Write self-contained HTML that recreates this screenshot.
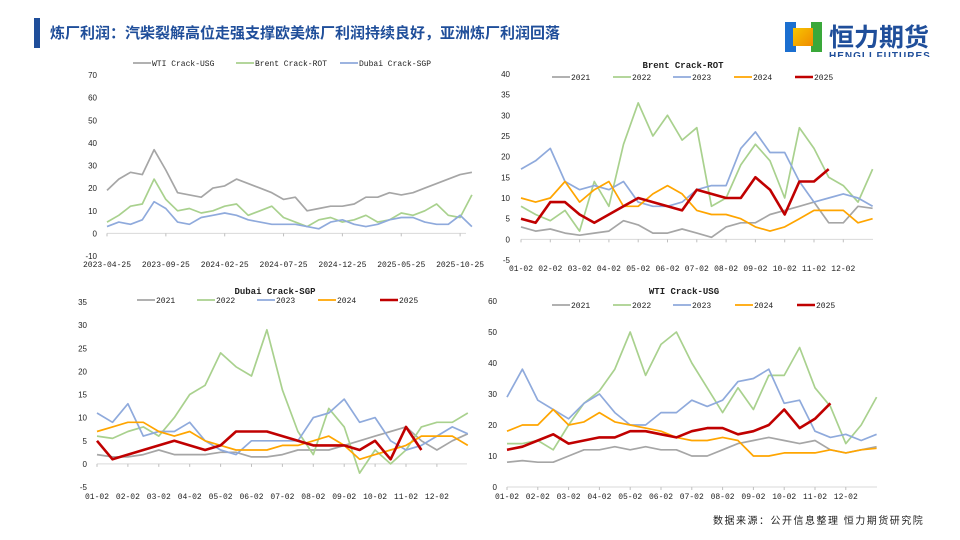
<!DOCTYPE html>
<html><head><meta charset="utf-8">
<style>
body{margin:0;background:#fff;}
#wrap{position:relative;width:960px;height:540px;overflow:hidden;background:#fff;font-family:"Liberation Sans","Noto Sans CJK SC",sans-serif;}
</style></head>
<body>
<div id="wrap">
<div style="position:absolute;left:34px;top:18px;width:6px;height:30px;background:#1f4e9a"></div>
<div style="position:absolute;left:50px;top:22px;font-size:15px;font-weight:bold;color:#1f4e9a;white-space:nowrap;font-family:'Liberation Sans','Noto Sans CJK SC',sans-serif">炼厂利润：汽柴裂解高位走强支撑欧美炼厂利润持续良好，亚洲炼厂利润回落</div>
<div style="position:absolute;left:785px;top:22px;width:150px;height:35px;overflow:hidden">
 <div style="position:absolute;left:0;top:0;width:37px;height:30px;background:linear-gradient(90deg,#1b6fd0 0 30%,#fff 30% 70%,#3aa83a 70%)"></div>
 <div style="position:absolute;left:8px;top:6px;width:20px;height:18px;background:linear-gradient(135deg,#f7c600,#f08a00)"></div>
 <div style="position:absolute;left:44px;top:-4px;font-size:25px;font-weight:bold;color:#1f4e9a;letter-spacing:0px;white-space:nowrap;font-family:'Liberation Sans','Noto Sans CJK SC',sans-serif">恒力期货</div>
 <div style="position:absolute;left:44px;top:29px;font-size:10px;color:#1f4e9a;font-weight:bold;letter-spacing:1px;white-space:nowrap">HENGLI FUTURES</div>
</div>
<div style="position:absolute;left:713px;top:512px;font-size:10px;color:#222;letter-spacing:1.5px;white-space:nowrap;font-family:'Liberation Sans','Noto Sans CJK SC',sans-serif">数据来源：公开信息整理 恒力期货研究院</div>
<svg id="svg" width="960" height="540" style="position:absolute;left:0;top:0"></svg>
</div>
<script>
// ---- Chart 1 data (monthly from 2023-04) ----
const c1XLabels=["2023-04-25","2023-09-25","2024-02-25","2024-07-25","2024-12-25","2025-05-25","2025-10-25"];
const c1YTicks=[-10,0,10,20,30,40,50,60,70];
const c1Wti=[19,24,27,26,37,28,18,17,16,20,21,24,22,20,18,15,16,10,11,12,12,13,16,16,18,17,18,20,22,24,26,27];
const c1Brent=[5,8,12,13,24,15,10,11,9,10,12,13,8,10,12,7,5,3,6,7,5,6,8,5,6,9,8,10,13,8,7,17];
const c1Dubai=[3,5,4,6,14,11,5,4,7,8,9,8,6,5,4,4,4,3,2,5,6,4,3,4,6,7,7,5,4,4,8,3];
// ---- Seasonal charts (half-month steps) ----
const monthLabels=["01-02","02-02","03-02","04-02","05-02","06-02","07-02","08-02","09-02","10-02","11-02","12-02"];
const yearNames=["2021","2022","2023","2024","2025"];
const brentTicks=[-5,0,5,10,15,20,25,30,35,40];
const brent2021=[3,2,2.5,1.5,1,1.5,2,4.5,3.5,1.5,1.5,2.5,1.5,0.5,3,4,4,6,7,8,9,4,4,8,7.5];
const brent2022=[8,6,4.5,7,2,14,8,23,33,25,30,24,27,8,10,18,23,19,10,27,22,15,13,9,17];
const brent2023=[17,19,22,14,12,13,12,14,9,8,8,9,12,13,13,22,26,21,21,14,9,10,11,10,8];
const brent2024=[10,9,10,14,9,12,14,8,8,11,13,11,7,6,6,5,3,2,3,5,7,7,7,4,5];
const brent2025=[5,4,9,9,6,4,6,8,10,9,8,7,12,11,10,10,15,12,6,14,14,17];
const dubaiTicks=[-5,0,5,10,15,20,25,30,35];
const dubai2021=[2,1.5,1.5,2,3,2,2,2,2.5,2.5,1.5,1.5,2,3,3,3,4,5,6,7,8,5,3,5,6.5];
const dubai2022=[6,5.5,7,8,6,10,15,17,24,21,19,29,16,7,2,12,8,-2,3,0,3,8,9,9,11];
const dubai2023=[11,9,13,6,7,7,9,5,3,2,5,5,5,5,10,11,14,9,10,5,3,4,6,8,6.5];
const dubai2024=[7,8,9,9,7,6,7,5,4,3,3,3,4,4,5,6,4,1,2,3,4,6,6,6,4];
const dubai2025=[5,1,2,3,4,5,4,3,4,7,7,7,6,5,4,4,4,3,5,1,8,3];
const wtiTicks=[0,10,20,30,40,50,60];
const wti2021=[8,8.5,8,8,10,12,12,13,12,13,12,12,10,10,12,14,15,16,15,14,15,12,11,12,13];
const wti2022=[14,14,15,12,20,27,31,38,50,36,46,50,40,32,24,32,25,36,36,45,32,26,14,20,29];
const wti2023=[29,38,28,25,22,27,30,24,20,20,24,24,28,26,28,34,35,38,27,28,18,16,17,15,17];
const wti2024=[18,20,20,25,20,21,24,21,20,19,18,16,15,15,16,15,10,10,11,11,11,12,11,12,12.5];
const wti2025=[12,13,15,17,14,15,16,16,18,18,17,16,18,19,19,17,18,20,25,19,22,27];

const svg=document.getElementById('svg');
const NS='http://www.w3.org/2000/svg';
function mk(tag,attrs,parent){const e=document.createElementNS(NS,tag);for(const k in attrs)e.setAttribute(k,attrs[k]);(parent||svg).appendChild(e);return e;}
const colors={"2021":"#a6a6a6","2022":"#a9d18e","2023":"#8faadc","2024":"#ffa500","2025":"#c00000"};

function drawChart(cfg){
  const g=mk('g',{});
  
  
  const ymin=cfg.ticks[0],ymax=cfg.ticks[cfg.ticks.length-1];
  const ys=v=>cfg.yTop+(ymax-v)/(ymax-ymin)*(cfg.yBot-cfg.yTop);
  const xs=m=>cfg.x0+m*cfg.perMonth;
  cfg.ticks.forEach(t=>{
    const tx=mk('text',{x:cfg.yLabX,y:ys(t)+3,'text-anchor':'end','font-size':'8','fill':'#222','font-family':'Liberation Sans, sans-serif'},g);
    tx.textContent=t;
    
    
  });
  const ax=mk('line',{x1:cfg.x0,x2:cfg.xEnd,y1:ys(0),y2:ys(0),stroke:'#d9d9d9','stroke-width':1},g);
  
  
  cfg.xLabels.forEach((l,i)=>{
    const m=i*cfg.labStep;
    mk('line',{x1:xs(m),x2:xs(m),y1:ys(0),y2:ys(0)+3,stroke:'#bfbfbf'},g);
    const tx=mk('text',{x:xs(m),y:cfg.xLabY,'text-anchor':'middle','font-size':'8','fill':'#222','font-family':'Liberation Mono, monospace'},g);
    tx.textContent=l;
    
    
  });
  cfg.series.forEach(s=>{
    const pts=s.data.map((v,i)=>xs(i*cfg.step).toFixed(1)+','+ys(v).toFixed(1)).join(' ');
    const p=mk('polyline',{points:pts,fill:'none',stroke:s.color,'stroke-width':s.w,'stroke-linejoin':'round'},g);
    
    
  });
  if(cfg.title){
    const t=mk('text',{x:cfg.titleX,y:cfg.titleY,'text-anchor':'middle','font-size':'9','fill':'#222','font-family':'Liberation Mono, monospace','font-weight':'bold'},g);
    t.textContent=cfg.title;
    
    
  }
  cfg.series.forEach((s,i)=>{
    const lx=cfg.legX[i];
    mk('line',{x1:lx,x2:lx+18,y1:cfg.legY,y2:cfg.legY,stroke:s.color,'stroke-width':s.w},g);
    const t=mk('text',{x:lx+19,y:cfg.legY+3,'font-size':'8','fill':'#222','font-family':'Liberation Mono, monospace'},g);
    t.textContent=s.label;
    
    
  });
}
function yearSeries(arrs){return arrs.map((a,i)=>({label:yearNames[i],data:a,color:colors[yearNames[i]],w:i==4?2.6:1.7}));}

drawChart({name:'chart-crack-overview',ticks:c1YTicks,yTop:75,yBot:256,x0:107,xEnd:466,perMonth:11.77,step:1,labStep:5,xLabels:c1XLabels,xLabY:267,yLabX:97,
  series:[{label:'WTI Crack-USG',data:c1Wti,color:'#a6a6a6',w:1.7},{label:'Brent Crack-ROT',data:c1Brent,color:'#a9d18e',w:1.7},{label:'Dubai Crack-SGP',data:c1Dubai,color:'#8faadc',w:1.7}],
  legX:[133,236,340],legY:63});
drawChart({name:'chart-brent-rot',ticks:brentTicks,yTop:74,yBot:260,x0:521,xEnd:873,perMonth:29.3,step:0.5,labStep:1,xLabels:monthLabels,xLabY:271,yLabX:510,
  series:yearSeries([brent2021,brent2022,brent2023,brent2024,brent2025]),title:'Brent Crack-ROT',titleX:683,titleY:68,legX:[552,613,673,734,795],legY:77});
drawChart({name:'chart-dubai-sgp',ticks:dubaiTicks,yTop:302,yBot:487,x0:97,xEnd:467,perMonth:30.9,step:0.5,labStep:1,xLabels:monthLabels,xLabY:499,yLabX:87,
  series:yearSeries([dubai2021,dubai2022,dubai2023,dubai2024,dubai2025]),title:'Dubai Crack-SGP',titleX:275,titleY:294,legX:[137,197,257,318,380],legY:300});
drawChart({name:'chart-wti-usg',ticks:wtiTicks,yTop:301,yBot:487,x0:507,xEnd:877,perMonth:30.8,step:0.5,labStep:1,xLabels:monthLabels,xLabY:499,yLabX:497,
  series:yearSeries([wti2021,wti2022,wti2023,wti2024,wti2025]),title:'WTI Crack-USG',titleX:684,titleY:294,legX:[552,613,673,735,797],legY:305});
</script>
</body></html>
